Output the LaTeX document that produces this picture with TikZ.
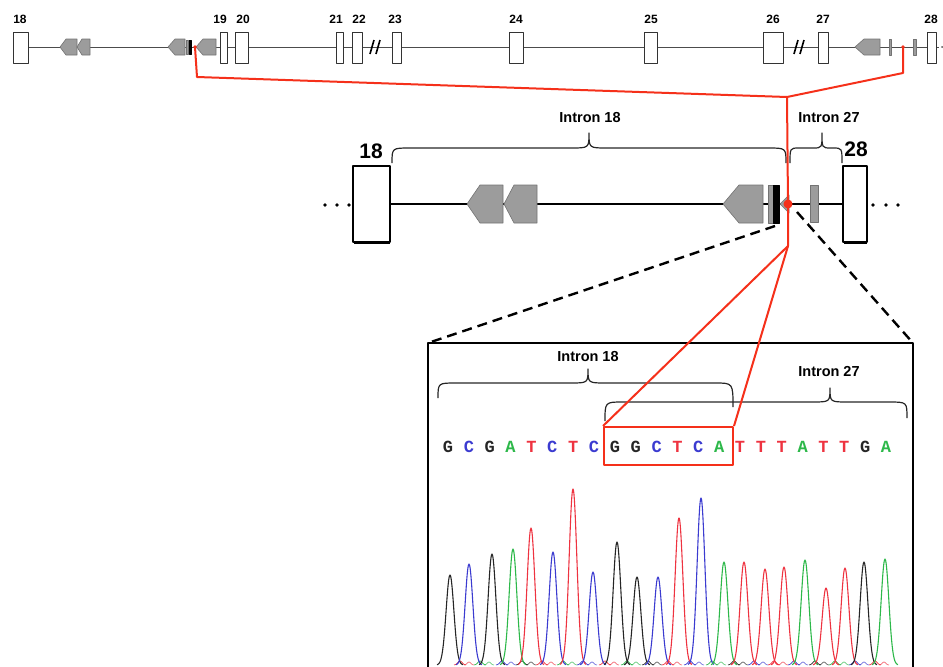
\documentclass[tikz,border=0pt]{standalone}
\usepackage{fontspec}
\setmainfont{Liberation Sans}
\newfontfamily\seqfont{Liberation Mono}
\usetikzlibrary{calc}

\definecolor{mutred}{HTML}{F5301A}
\definecolor{repgray}{HTML}{9C9C9C}
\definecolor{baseA}{HTML}{2DB84A}
\definecolor{baseC}{HTML}{3B3BD0}
\definecolor{baseG}{HTML}{262626}
\definecolor{baseT}{HTML}{EE3340}

% repeat element pointing left: tip x, shoulder x, end x, y, half height
\newcommand{\repleft}[5]{%
  \draw[repfill] (#1,#4) -- (#2,{#4-#5}) -- (#3,{#4-#5}) -- (#3,{#4+#5}) -- (#2,{#4+#5}) -- cycle;}

% curly brace: x1, xm, x2, y left end, y right end, y bar, y tip, radius
\newcommand{\ibrace}[8]{%
  \draw[brace] (#1,#4) .. controls (#1,#6) .. ({#1+#8},#6) -- ({#2-#8},#6)
    .. controls (#2,#6) .. (#2,#7) .. controls (#2,#6) .. ({#2+#8},#6)
    -- ({#3-#8},#6) .. controls (#3,#6) .. (#3,#5);}

\begin{document}
\begin{tikzpicture}[x=1pt,y=-1pt,line join=round,
  exon/.style={draw=black!80,fill=white,line width=0.9},
  bigexon/.style={draw=black,fill=white,line width=2.6},
  repfill/.style={draw=black!55,fill=repgray,line width=0.6},
  brace/.style={draw=black!85,line width=1.2},
  mut/.style={draw=mutred,line width=2},
  zoomline/.style={draw=black,line width=2.4,dash pattern=on 10pt off 6pt},
  toplabel/.style={font=\bfseries\fontsize{12}{14}\selectfont},
  intronlabel/.style={font=\bfseries\fontsize{14.5}{17}\selectfont},
  exonlabel/.style={font=\bfseries\fontsize{21}{24}\selectfont},
  seq/.style={font=\seqfont\bfseries\fontsize{17}{20}\selectfont,inner sep=0}]
	\useasboundingbox (0,0) rectangle (943,667);
	\clip (0,0) rectangle (943,667);

	% Gene overview (exons 18 - 28)
	\draw[black!70,line width=0.9] (28,47) -- (939,47);
	\fill[black!70] (942,47) circle (1);
	\foreach \n/\xa/\xb/\xl in {18/13/28/20, 19/220/227/220, 20/235/248/243,
	    21/336/343/336, 22/352/362/359, 23/392/401/395, 24/509/523/516,
	    25/644/657/651, 26/763/783/773, 27/818/828/823, 28/927/936/931}{
		\draw[exon] (\xa,32) rectangle (\xb,63);
		\node[toplabel] (t\n) at (\xl,19) {\n};
	}
	% breaks
	\draw[black,line width=1.6] (370,54) -- (374,40) (376,54) -- (380,40);
	\draw[black,line width=1.6] (794,54) -- (798,40) (800,54) -- (804,40);
	% repeats in intron 18
	\repleft{60}{66}{77}{47}{8}
	\repleft{77}{82}{90}{47}{8}
	\repleft{168}{175}{185}{47}{8}
	\draw[repfill] (186,40) rectangle (188,54);
	\draw[fill=black] (189,40) rectangle (191,54);
	\repleft{196}{203}{216}{47}{8}
	% repeats in intron 27
	\repleft{855}{864}{880}{47}{8}
	\draw[repfill] (889,39) rectangle (891,55);
	\draw[repfill] (913,39) rectangle (916,55);

	% Breakpoints
	\coordinate (mutA) at (195,47);
	\coordinate (mutB) at (903,47);
	\coordinate (bendA) at (197,77);
	\coordinate (bendB) at (903,73);
	\coordinate (join) at (787,97);
	\coordinate (mutM) at (788,204);
	\coordinate (split) at (788,246);

	% Fused intron
	\draw[black,line width=2.4] (390,204) -- (843,204);
	\foreach \d in {325,337,349,873,886,898}
		\fill (\d,205) circle (1.8);
	\draw[bigexon] (353,166) rectangle (390,242);
	\draw[bigexon] (843,166) rectangle (867,242);
	\draw[black,line width=1.5] (354,243) -- (390,243) (844,243) -- (867,243);
	\node[exonlabel] (m18) at (371,151) {18};
	\node[exonlabel] (m28) at (856,149) {28};
	\repleft{467}{480}{503}{204}{19}
	\repleft{504}{514}{537}{204}{19}
	\repleft{723}{739}{763}{204}{19}
	\draw[repfill] (768,185) rectangle (773,223);
	\draw[fill=black] (773,185) rectangle (779,223);
	\draw[repfill] (780,204) -- (789,195) -- (789,213) -- cycle;
	\draw[repfill] (810,185) rectangle (818,222);

	\ibrace{392}{589}{786}{163}{163}{148}{133}{18}
	\ibrace{790}{822}{842}{163}{163}{148}{133}{9}
	\node[intronlabel] (i18) at (590,118) {Intron 18};
	\node[intronlabel] (i27) at (829,118) {Intron 27};

	% Zoom lines and box
	\coordinate (zoomL) at (775,226);
	\coordinate (zoomR) at (797,212);
	\coordinate (boxNW) at (428,343);
	\coordinate (boxNE) at (913,343);
	\draw[zoomline] (zoomL) -- (boxNW);
	\draw[zoomline] (zoomR) -- (boxNE);
	\draw[black,line width=2.6] (428,700) -- (boxNW) -- (boxNE) -- (913,700);

	% Sequence
	\foreach \b [count=\i from 0] in {G,C,G,A,T,C,T,C,G,G,C,T,C,A,T,T,T,A,T,T,G,A}
		\node[seq,text=base\b] (s\i) at ({448+\i*20.86},447) {\b};
	\node[draw=mutred,line width=2,minimum width=129,minimum height=38,inner sep=0] (rbox) at (668.5,446) {};

	\ibrace{438}{588}{733}{398}{407}{383}{369}{18}
	\ibrace{605}{830}{907}{421}{418}{402}{388}{18}
	\node[intronlabel] (b18) at (588,357) {Intron 18};
	\node[intronlabel] (b27) at (829,372) {Intron 27};

	% Red connectors
	\draw[mut] (mutA) -- (bendA) -- (join);
	\draw[mut] (mutB) -- (bendB) -- (join) -- (mutM) -- (split);
	\draw[mut] (split) -- (rbox.north west);
	\draw[mut] (split) -- (rbox.north east);
	\fill[mutred] (mutA) circle (1.8);
	\fill[mutred] (mutB) circle (1.8);
	\fill[mutred] (mutM) circle (4.5);

	% Chromatogram
	\foreach \bx/\bb in {460/T,480/A,502/C,522/G,542/T,563/A,583/C,605/T,627/A,648/G,
	    668/T,690/C,712/A,734/G,754/C,774/T,794/C,815/G,835/A,855/C,875/T}{
		\draw[base\bb,line width=0.7] plot[domain=-6:6,samples=13,smooth] ({\bx+\x},{665-4*exp(-((\x)*(\x))/9)});
		\draw[base\bb,line width=0.7,opacity=0.7] plot[domain=-5:5,samples=11,smooth] ({\bx+9+\x},{665-3*exp(-((\x)*(\x))/6)});
	}
	\foreach \px/\ph/\pb in {450/90/G, 469/101/C, 492/111/G, 513/116/A, 531/137/T,
	    553/113/C, 573/176/T, 593/93/C, 617/123/G, 637/88/G, 658/88/C, 679/147/T,
	    701/167/C, 724/103/A, 744/103/T, 765/96/T, 784/98/T, 805/105/A, 826/77/T,
	    845/97/T, 864/103/G, 885/106/A}
		\draw[base\pb,line width=1.1] plot[domain=-13:13,samples=41,smooth] ({\px+\x},{665-\ph*exp(-((\x)*(\x))/30)});
\end{tikzpicture}
\end{document}
